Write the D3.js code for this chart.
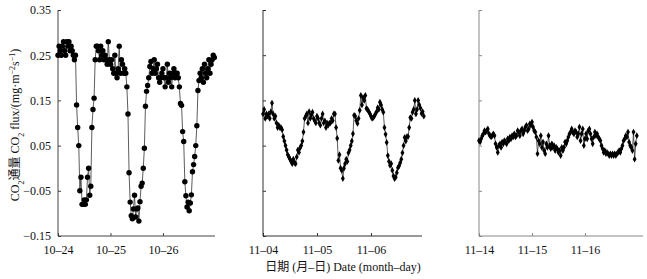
<!DOCTYPE html>
<html>
<head>
<meta charset="utf-8">
<script src="https://cdn.jsdelivr.net/npm/d3@7"></script>
<style>
	body { margin: 0; background: #fff; }
	svg { display: block; }
	text { font-family: "Liberation Serif", "Times New Roman", "Noto Sans CJK SC", serif; fill: #111; }
</style>
</head>
<body>
<div class="graphic__vis"></div>
<script>

// half-hourly CO2 flux, mg m-2 s-1 (3 days per panel)
var fluxOct = [
	0.25,0.27,0.26,0.25,0.27,0.28,0.26,0.25,0.28,0.27,0.28,0.26,0.27,0.26,0.25,0.24,0.25,
	0.14,0.09,0.05,-0.05,-0.02,-0.08,-0.08,-0.07,-0.08,-0.07,-0.02,0.00,-0.06,-0.04,0.09,0.13,0.155,0.24,0.27,
	0.27,0.26,0.24,0.27,0.25,0.26,0.24,0.25,0.24,0.23,0.28,0.24,0.23,0.24,0.22,0.21,0.25,0.21,0.20,0.22,0.27,0.21,0.24,0.23,0.21,0.22,0.21,
	0.18,0.12,-0.01,-0.075,-0.105,-0.112,-0.09,-0.06,-0.108,-0.09,-0.088,-0.117,-0.074,-0.04,-0.033,0.00,0.044,0.137,0.17,0.183,0.20,0.225,0.236,
	0.21,0.22,0.24,0.21,0.22,0.23,0.20,0.19,0.20,0.21,0.22,0.20,0.18,0.20,0.23,0.19,0.21,0.20,0.18,0.21,0.22,0.20,0.21,0.21,0.20,
	0.18,0.143,0.139,0.081,0.059,-0.03,-0.061,-0.086,-0.075,-0.094,-0.077,-0.059,-0.008,0.008,0.026,0.05,0.094,0.172,
	0.194,0.21,0.20,0.22,0.19,0.23,0.21,0.20,0.22,0.24,0.21,0.23,0.24,0.25,0.245
]

var fluxNovA = [
	0.12,0.13,0.11,0.12,0.115,0.12,0.11,0.125,0.144,0.12,
	0.11,0.115,0.10,0.09,0.095,0.09,0.09,0.085,0.07,0.06,
	0.05,0.04,0.03,0.025,0.02,0.015,0.01,0.02,0.012,0.01,
	0.025,0.04,0.035,0.045,0.05,0.06,0.08,0.11,0.115,0.12,
	0.10,0.125,0.11,0.118,0.124,0.11,0.105,0.10,0.115,0.11,
	0.10,0.095,0.11,0.12,0.10,0.105,0.09,0.10,0.095,0.10,
	0.10,0.11,0.105,0.12,0.12,0.09,0.066,0.017,0.03,0.00,
	-0.005,-0.023,0.00,0.01,0.02,0.015,0.034,0.04,0.05,0.06,
	0.076,0.117,0.115,0.105,0.099,0.11,0.128,0.161,0.14,0.156,
	0.15,0.161,0.132,0.13,0.125,0.121,0.115,0.11,0.112,0.115,
	0.12,0.125,0.134,0.13,0.146,0.14,0.13,0.124,0.09,0.075,
	0.057,0.028,0.015,0.006,0.01,-0.005,-0.017,-0.023,-0.02,-0.01,
	0.001,0.005,0.012,0.02,0.034,0.05,0.068,0.06,0.07,0.07,
	0.09,0.112,0.11,0.124,0.13,0.15,0.12,0.13,0.15,0.14,
	0.133,0.121,0.125,0.115
]

var fluxNovB = [
	0.061,0.058,0.065,0.072,0.076,0.083,0.08,0.083,0.087,0.076,
	0.072,0.069,0.072,0.076,0.072,0.054,0.046,0.035,0.05,0.054,
	0.046,0.058,0.054,0.061,0.058,0.054,0.065,0.061,0.069,0.065,
	0.072,0.069,0.076,0.069,0.072,0.083,0.08,0.072,0.083,0.087,
	0.076,0.083,0.091,0.095,0.083,0.087,0.098,0.095,0.102,0.091,
	0.083,0.08,0.069,0.032,0.061,0.054,0.072,0.046,0.058,0.039,
	0.032,0.054,0.046,0.072,0.05,0.043,0.054,0.046,0.05,0.039,
	0.046,0.043,0.035,0.039,0.028,0.046,0.039,0.046,0.058,0.054,
	0.061,0.069,0.076,0.08,0.087,0.08,0.076,0.083,0.08,0.069,
	0.076,0.091,0.061,0.076,0.087,0.05,0.065,0.076,0.065,0.083,
	0.087,0.076,0.065,0.054,0.069,0.08,0.072,0.076,0.069,0.065,
	0.061,0.05,0.043,0.035,0.039,0.032,0.035,0.032,0.028,0.032,
	0.028,0.032,0.028,0.032,0.028,0.032,0.035,0.039,0.035,0.043,
	0.05,0.061,0.065,0.072,0.069,0.08,0.058,0.05,0.046,0.039,
	0.08,0.02,0.054,0.072
]

var daysOct = ["10\u201324", "10\u201325", "10\u201326"]
var daysNovA = ["11\u201304", "11\u201305", "11\u201306"]
var daysNovB = ["11\u201314", "11\u201315", "11\u201316"]

var yTicks = [0.35, 0.25, 0.15, 0.05, -0.05, -0.15]

var width = 647
var height = 279
var plotTop = 10
var plotBottom = 236

var svg = d3.select('.graphic__vis').append('svg')
	.attr('width', width)
	.attr('height', height)

var y = d3.scaleLinear()
	.domain([-0.15, 0.35])
	.range([plotBottom, plotTop])

var panels = [
	{ data: fluxOct, days: daysOct, x0: 58, x1: 215, end: 71.8, marker: 'circle', axisColor: '#444', labels: true },
	{ data: fluxNovA, days: daysNovA, x0: 263, x1: 422, end: 70.7, marker: 'diamond', axisColor: '#333', labels: false },
	{ data: fluxNovB, days: daysNovB, x0: 479, x1: 643, end: 74.3, marker: 'diamond', axisColor: '#888', labels: false }
]

function fmt(v) {
	return d3.format('.2f')(v).replace('-', '\u2212')
}

function drawPanel(p) {
	var x = d3.scaleLinear()
		.domain([0, p.end])
		.range([p.x0, p.x1])

	var g = svg.append('g')

	var xAxis = d3.axisBottom(x)
		.tickValues([0, 24, 48])
		.tickSize(-3)
		.tickPadding(9)
		.tickFormat(function(d, i) { return p.days[i] })

	var gx = g.append('g')
		.attr('transform', 'translate(0,' + plotBottom + ')')
		.call(xAxis)
	gx.select('.domain').attr('stroke', p.axisColor).attr('d', 'M' + p.x0 + ',0H' + p.x1)
	gx.selectAll('.tick line').attr('stroke', p.axisColor)
	gx.selectAll('.tick text')
		.style('font-size', '12px')
		.attr('fill', '#111')

	var yAxis = d3.axisLeft(y)
		.tickValues(yTicks)
		.tickSize(-3)
		.tickPadding(7)
		.tickFormat(p.labels ? fmt : '')

	var gy = g.append('g')
		.attr('transform', 'translate(' + p.x0 + ',0)')
		.call(yAxis)
	gy.select('.domain').attr('stroke', p.axisColor).attr('d', 'M0,' + plotTop + 'V' + plotBottom)
	gy.selectAll('.tick line').attr('stroke', p.axisColor)
	gy.selectAll('.tick text')
		.style('font-size', '12px')
		.attr('fill', '#111')

	var line = d3.line()
		.x(function(d, i) { return x(i * 0.5) })
		.y(function(d) { return y(d) })

	g.append('path')
		.datum(p.data)
		.attr('fill', 'none')
		.attr('stroke', '#333')
		.attr('stroke-width', 0.8)
		.attr('d', line)

	if (p.marker == 'circle') {
		g.selectAll('.pt')
			.data(p.data)
			.enter().append('circle')
			.attr('class', 'pt')
			.attr('cx', function(d, i) { return x(i * 0.5) })
			.attr('cy', function(d) { return y(d) })
			.attr('r', 2.7)
			.attr('fill', '#000')
	} else {
		var sym = d3.symbol().type(d3.symbolDiamond).size(13)
		g.selectAll('.pt')
			.data(p.data)
			.enter().append('path')
			.attr('class', 'pt')
			.attr('transform', function(d, i) { return 'translate(' + x(i * 0.5) + ',' + y(d) + ')' })
			.attr('d', sym)
			.attr('fill', '#000')
	}
}

panels.forEach(drawPanel)

// y axis title
var yTitle = svg.append('text')
	.attr('transform', 'translate(19,125) rotate(-90)')
	.attr('text-anchor', 'middle')
	.style('font-size', '12px')
yTitle.append('tspan').text('CO')
yTitle.append('tspan').attr('baseline-shift', 'sub').style('font-size', '8px').text('2')
yTitle.append('tspan').text('通量  CO')
yTitle.append('tspan').attr('baseline-shift', 'sub').style('font-size', '8px').text('2')
yTitle.append('tspan').text(' flux/(mg\u00b7m')
yTitle.append('tspan').attr('baseline-shift', 'super').style('font-size', '8px').text('\u22122')
yTitle.append('tspan').text('s')
yTitle.append('tspan').attr('baseline-shift', 'super').style('font-size', '8px').text('\u22121')
yTitle.append('tspan').text(')')

// x axis title
svg.append('text')
	.attr('x', 343)
	.attr('y', 271)
	.attr('text-anchor', 'middle')
	.style('font-size', '12px')
	.text('日期 (月\u2013日) Date (month\u2013day)')

</script>
</body>
</html>
